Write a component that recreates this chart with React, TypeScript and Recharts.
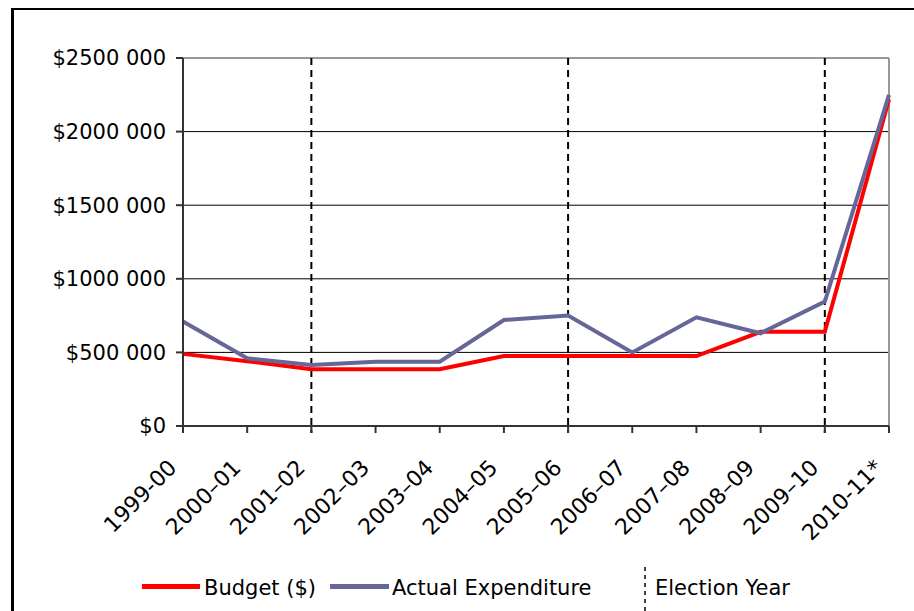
import { LineChart, Line, XAxis, YAxis, CartesianGrid, ReferenceLine } from 'recharts';

const years = [
  '1999-00',
  '2000–01',
  '2001–02',
  '2002–03',
  '2003–04',
  '2004–05',
  '2005–06',
  '2006–07',
  '2007–08',
  '2008–09',
  '2009–10',
  '2010-11*',
];
const budget = [490000, 440000, 385000, 385000, 385000, 475000, 475000, 475000, 475000, 640000, 640000, 2220000];
const actual = [710000, 460000, 415000, 437000, 437000, 720000, 750000, 500000, 738000, 630000, 845000, 2250000];
const electionYears = ['2001–02', '2005–06', '2009–10'];
const yTicks = [0, 500000, 1000000, 1500000, 2000000, 2500000];

const data = years.map((year, i) => ({ year, budget: budget[i], actual: actual[i] }));

const font = 'DejaVu Sans, Verdana, sans-serif';

function money(v: number) {
  if (v === 0) return '$0';
  const thousands = Math.floor(v / 1000);
  const rest = String(v % 1000).padStart(3, '0');
  return `$${thousands} ${rest}`;
}

function YearTick({ x, y, payload }: any) {
  const tx = x - 5;
  const ty = y + 34;
  return (
    <text
      x={tx}
      y={ty}
      transform={`rotate(-45, ${tx}, ${ty})`}
      textAnchor="end"
      fill="#000"
      fontSize={22}
      fontFamily={font}
    >
      {payload.value}
    </text>
  );
}

// dashed election line, runs a few px past the x axis like the original
function ElectionLine(p: any) {
  const top = Math.min(p.y1, p.y2);
  const bottom = Math.max(p.y1, p.y2);
  return (
    <line
      x1={p.x1}
      y1={top}
      x2={p.x2}
      y2={bottom + 7}
      stroke="#000"
      strokeWidth={2}
      strokeDasharray="7 5"
    />
  );
}

export default function App() {
  return (
    <div
      style={{
        position: 'fixed',
        left: 0,
        top: 0,
        width: 914,
        height: 611,
        overflow: 'hidden',
        background: '#fff',
      }}
    >
      <div
        style={{
          position: 'absolute',
          left: 11,
          top: 8,
          width: 1000,
          height: 700,
          borderLeft: '3px solid #000',
          borderTop: '2px solid #000',
        }}
      />
      <div style={{ position: 'absolute', left: 0, top: 0 }}>
        <LineChart width={914} height={611} data={data} margin={{ top: 58, right: 25, left: 0, bottom: 85 }}>
          <CartesianGrid vertical={false} stroke="#000" strokeWidth={1} />
          <XAxis
            dataKey="year"
            interval={0}
            tickSize={7}
            height={100}
            axisLine={{ stroke: '#333', strokeWidth: 2 }}
            tickLine={{ stroke: '#333', strokeWidth: 2 }}
            tick={<YearTick />}
          />
          <YAxis
            width={183}
            domain={[0, 2500000]}
            ticks={yTicks}
            interval={0}
            tickSize={7}
            tickMargin={10}
            tickFormatter={money}
            axisLine={{ stroke: '#333', strokeWidth: 2 }}
            tickLine={{ stroke: '#333', strokeWidth: 2 }}
            tick={{ fill: '#000', fontSize: 21, fontFamily: font }}
          />
          <ReferenceLine y={2500000} stroke="#999" strokeWidth={2} />
          <ReferenceLine x={years[years.length - 1]} stroke="#999" strokeWidth={2} />
          {electionYears.map((y) => (
            <ReferenceLine key={y} x={y} shape={ElectionLine} />
          ))}
          <Line
            type="linear"
            dataKey="budget"
            stroke="#ff0000"
            strokeWidth={4}
            dot={false}
            isAnimationActive={false}
          />
          <Line
            type="linear"
            dataKey="actual"
            stroke="#666699"
            strokeWidth={4}
            dot={false}
            isAnimationActive={false}
          />
        </LineChart>
      </div>
      <svg
        width={914}
        height={51}
        style={{ position: 'absolute', left: 0, top: 560 }}
        fontFamily={font}
        fontSize={21}
      >
        <line x1={142} y1={26.5} x2={200} y2={26.5} stroke="#ff0000" strokeWidth={5} />
        <text x={204} y={35} fill="#000">
          Budget ($)
        </text>
        <line x1={330} y1={26.5} x2={389} y2={26.5} stroke="#666699" strokeWidth={5} />
        <text x={392} y={35} fill="#000">
          Actual Expenditure
        </text>
        <line x1={645} y1={7} x2={645} y2={51} stroke="#000" strokeWidth={1.5} strokeDasharray="4 4" />
        <text x={655} y={35} fill="#000">
          Election Year
        </text>
      </svg>
    </div>
  );
}
